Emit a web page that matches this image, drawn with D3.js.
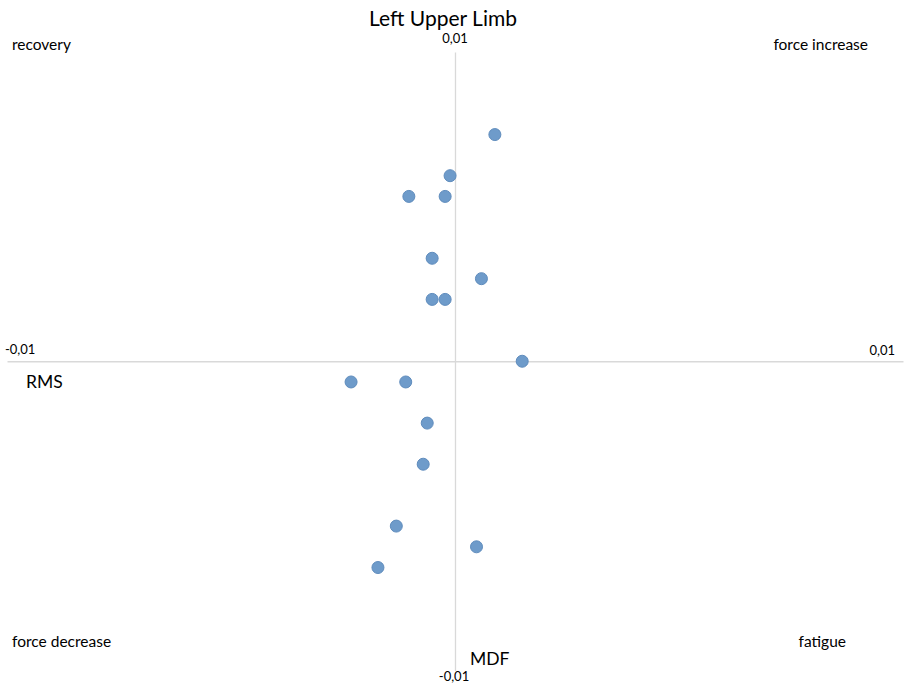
<!DOCTYPE html>
<html>
<head>
<meta charset="utf-8">
<script src="https://cdn.jsdelivr.net/npm/d3@7"></script>
<style>
  html, body { margin: 0; padding: 0; background: #fff; }
  svg text { font-family: Lato, "Open Sans", "Liberation Sans", sans-serif; fill: #000; }
</style>
</head>
<body>
<svg id="chart" width="905" height="685"></svg>
<script>
// RMS change (x) vs MDF change (y) per subject, left upper limb
const rmsValues = [0.00089, -0.00011, -0.00103, -0.00022, -0.00051, 0.00059, -0.00051, -0.00022,
                   0.0015, -0.00232, -0.0011, -0.00062, -0.00071, -0.00131, 0.00048, -0.00172];
const mdfValues = [0.00733, 0.006, 0.00533, 0.00533, 0.00333, 0.00267, 0.002, 0.002,
                   0, -0.00067, -0.00067, -0.002, -0.00333, -0.00533, -0.006, -0.00667];
const axisDomain = [-0.01, 0.01];
const tickLabels = { min: "-0,01", max: "0,01" };
const quadrantLabels = ["recovery", "force increase", "force decrease", "fatigue"];
const chartTitle = "Left Upper Limb";
const xAxisTitle = "RMS";
const yAxisTitle = "MDF";

const svg = d3.select("#chart");
const x = d3.scaleLinear().domain(axisDomain).range([7, 903]);
const y = d3.scaleLinear().domain(axisDomain).range([670.5, 52]);

const axisColor = "#d9d9d9";

// Horizontal axis through y = 0
const gx = svg.append("g")
  .attr("transform", `translate(0,${y(0)})`)
  .call(d3.axisBottom(x).tickValues([]).tickSizeOuter(0));
gx.select(".domain").attr("stroke", axisColor).attr("stroke-width", 1.3);

// Vertical axis through x = 0
const gy = svg.append("g")
  .attr("transform", `translate(${x(0)},0)`)
  .call(d3.axisLeft(y).tickValues([]).tickSizeOuter(0));
gy.select(".domain").attr("stroke", axisColor).attr("stroke-width", 1.3);

// Axis end labels
const tickSize = "13px";
svg.append("text").attr("x", x(axisDomain[0]) - 2).attr("y", y(0) - 7)
  .attr("font-size", tickSize).attr("text-anchor", "start").text(tickLabels.min);
svg.append("text").attr("x", x(axisDomain[1]) - 8).attr("y", y(0) - 6)
  .attr("font-size", tickSize).attr("text-anchor", "end").text(tickLabels.max);
svg.append("text").attr("x", x(0)).attr("y", y(axisDomain[1]) - 9)
  .attr("font-size", tickSize).attr("text-anchor", "middle").text(tickLabels.max);
svg.append("text").attr("x", x(0) - 1).attr("y", y(axisDomain[0]) + 10)
  .attr("font-size", tickSize).attr("text-anchor", "middle").text(tickLabels.min);

// Title
svg.append("text").attr("x", 443).attr("y", 26)
  .attr("font-size", "21px").attr("text-anchor", "middle").text(chartTitle);

// Axis titles
svg.append("text").attr("x", 26).attr("y", 388)
  .attr("font-size", "17.5px").text(xAxisTitle);
svg.append("text").attr("x", 470).attr("y", 665)
  .attr("font-size", "17.5px").text(yAxisTitle);

// Quadrant labels
const qSize = "15.5px";
svg.append("text").attr("x", 12).attr("y", 50).attr("font-size", qSize).text(quadrantLabels[0]);
svg.append("text").attr("x", 868).attr("y", 50).attr("font-size", qSize)
  .attr("text-anchor", "end").text(quadrantLabels[1]);
svg.append("text").attr("x", 12).attr("y", 647).attr("font-size", qSize).text(quadrantLabels[2]);
svg.append("text").attr("x", 846).attr("y", 647).attr("font-size", qSize)
  .attr("text-anchor", "end").text(quadrantLabels[3]);

// Points
const points = rmsValues.map((v, i) => ({ rms: v, mdf: mdfValues[i] }));
svg.append("g").selectAll("circle")
  .data(points)
  .join("circle")
  .attr("cx", d => x(d.rms))
  .attr("cy", d => y(d.mdf))
  .attr("r", 6)
  .attr("fill", "#6e9bca")
  .attr("stroke", "#5f8cbd")
  .attr("stroke-width", 1);
</script>
</body>
</html>
